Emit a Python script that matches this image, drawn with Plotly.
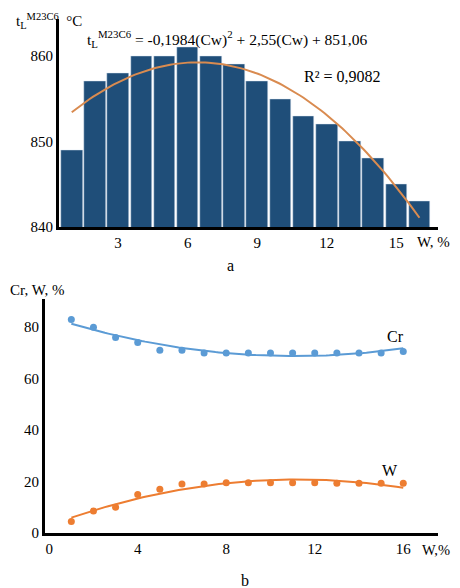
import numpy as np
import plotly.graph_objects as go

# ---- data: chart a ----
w_bar = list(range(1, 17))
tl_values = [849, 857, 858, 860, 860, 861, 860, 859, 857, 855, 853, 852, 850, 848, 845, 843]
trend_coeffs = [-0.1984, 2.55, 851.06]  # from the displayed equation
a_xticks = [3, 6, 9, 12, 15]
a_yticks = [840, 850, 860]

# ---- data: chart b ----
w_pts = list(range(1, 17))
cr_values = [83, 80, 76, 74, 71, 71, 70, 70, 70, 70, 70, 70, 70, 70, 70, 70.5]
w_values = [4.5, 8.5, 10, 15, 17, 19, 19, 19.5, 19.5, 19.5, 19.5, 19.5, 19.3, 19.3, 19.3, 19.3]
b_xticks = [0, 4, 8, 12, 16]
b_yticks = [0, 20, 40, 60, 80]

OFF = 8  # page body margin
W, H = 460 - 2 * OFF, 590
SY = 0.983
FONT = "Liberation Serif, Times New Roman, serif"
BAR = "#1F4E79"
TREND = "#D98B50"
CRC = "#5B9BD5"
WC = "#ED7D31"

def px(x):
    return (x - OFF) / W

def py(y):
    page = (y - 1) / SY
    return 1 - (page - OFF) / H

fig = go.Figure()

# chart a
fig.add_trace(go.Bar(x=w_bar, y=tl_values, marker_color=BAR, width=0.93,
                     xaxis="x", yaxis="y", showlegend=False))
xs = np.linspace(1, 16, 100)
fig.add_trace(go.Scatter(x=xs, y=np.polyval(trend_coeffs, xs), mode="lines",
                         line=dict(color=TREND, width=2), xaxis="x", yaxis="y",
                         showlegend=False))

# chart b
xb = np.linspace(1, 16, 100)
for vals, col in [(cr_values, CRC), (w_values, WC)]:
    c = np.polyfit(w_pts, vals, 2)
    fig.add_trace(go.Scatter(x=xb, y=np.polyval(c, xb), mode="lines",
                             line=dict(color=col, width=2), xaxis="x2", yaxis="y2",
                             showlegend=False))
    fig.add_trace(go.Scatter(x=w_pts, y=vals, mode="markers",
                             marker=dict(color=col, size=7), xaxis="x2", yaxis="y2",
                             showlegend=False))

axcommon = dict(showgrid=False, zeroline=False, showline=True, linecolor="black",
                linewidth=3, ticks="", tickfont=dict(family=FONT, size=15, color="black"))

fig.update_layout(
    width=W, height=H, margin=dict(l=0, r=0, t=0, b=0),
    font=dict(family=FONT, size=15, color="black"),
    paper_bgcolor="white", plot_bgcolor="white", bargap=0,
    xaxis=dict(domain=[px(59), px(438)], range=[0.45, 16.8], tickvals=a_xticks,
               anchor="y", **axcommon),
    yaxis=dict(domain=[py(227), py(20)], range=[840, 864.3], tickvals=a_yticks,
               anchor="x", **axcommon),
    xaxis2=dict(domain=[px(45), px(438)], range=[-0.19, 17.57], tickvals=b_xticks,
                anchor="y2", **axcommon),
    yaxis2=dict(domain=[py(532), py(299)], range=[0, 90.9], tickvals=b_yticks,
                anchor="x2", **axcommon),
)

def ann(text, x, y, size=15, xanchor="center", yanchor="middle"):
    fig.add_annotation(text=text, x=px(x), y=py(y), xref="paper", yref="paper",
                       xanchor=xanchor, yanchor=yanchor, showarrow=False,
                       font=dict(family=FONT, size=size, color="black"))

ann("t<sub>L</sub><sup>M23C6</sup>  °C", 14, 9.5, xanchor="left", yanchor="top")
ann("t<sub>L</sub><sup>M23C6</sup> = -0,1984(Cw)<sup>2</sup> + 2,55(Cw) + 851,06", 85, 40, size=15.5, xanchor="left")
ann("R² = 0,9082", 302, 77, size=16, xanchor="left")
ann("W, %", 452, 242, xanchor="right")
ann("a", 230, 265, size=16)
ann("Cr, W, %", 8, 290, xanchor="left")
ann("Cr", 395, 336, size=16)
ann("W", 390, 470, size=16)
ann("W,%", 452, 549, size=14.5, xanchor="right")
ann("b", 245, 579, size=16)

fig.write_html("out.html")
